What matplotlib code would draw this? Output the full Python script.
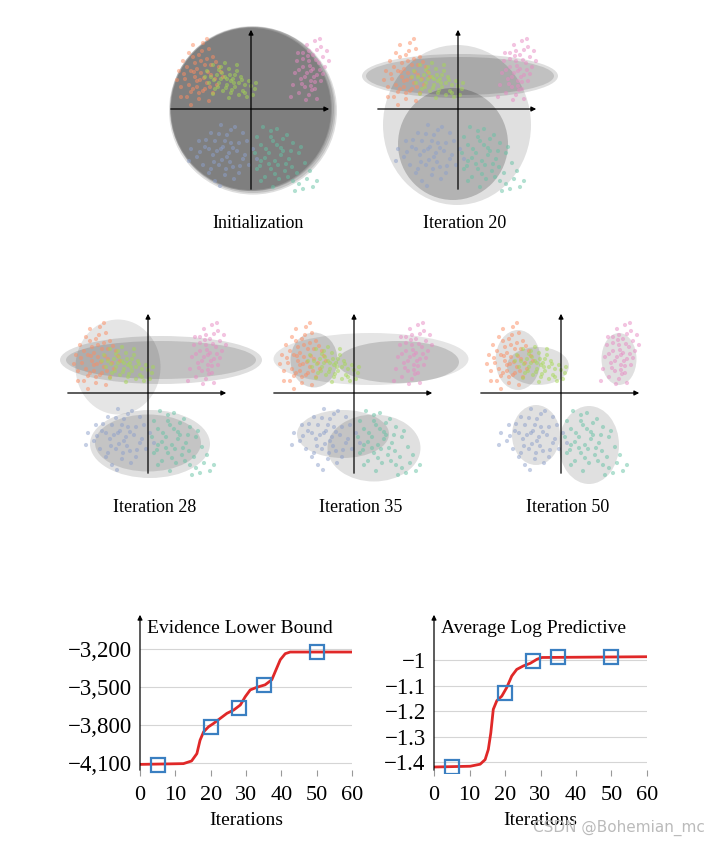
import matplotlib
matplotlib.use("Agg")
from matplotlib import pyplot as plt
from matplotlib.patches import Ellipse
from matplotlib.ticker import FuncFormatter

plt.rcParams['font.family'] = ['Liberation Serif', 'DejaVu Serif']

# five point clouds (same data in every panel), Set2 colours
cluster_colors = ['#fc8d62', '#a6d854', '#e78ac3', '#8da0cb', '#66c2a5']
orange_pts = [(-2.9, 3.2), (-2.4, 3.3), (-2.1, 3.0), (-3.1, 2.8), (-2.6, 2.7), (-1.9, 2.6), (-3.4, 2.4),
              (-2.8, 2.3), (-2.3, 2.2), (-1.6, 2.1), (-3.6, 1.9), (-3.0, 1.9), (-2.5, 1.8), (-2.0, 1.7),
              (-1.4, 1.6), (-3.3, 1.5), (-2.7, 1.4), (-2.2, 1.3), (-1.7, 1.2), (-3.5, 1.1), (-2.9, 1.0),
              (-2.4, 0.9), (-1.9, 0.8), (-3.2, 0.6), (-2.6, 0.5), (-2.1, 0.4), (-3.0, 0.2), (-2.7, 2.0),
              (-2.2, 2.5), (-2.8, 1.6), (-3.1, 1.2), (-2.35, 1.55), (-2.5, 2.4), (-2.0, 2.2), (-2.7, 1.1),
              (-2.3, 1.0), (-1.8, 1.5), (-3.2, 2.1), (-2.9, 2.6), (-2.45, 2.9), (-1.75, 2.35), (-3.35, 1.75),
              (-2.15, 1.85), (-2.6, 0.8), (-3.0, 0.85), (-1.5, 1.85), (-2.05, 1.1), (-2.85, 1.85),
              (-3.5, 0.6), (-2.2, 3.5), (-3.7, 1.45), (-2.55, 1.45)]
green_pts = [(-2.2, 1.9), (-1.9, 2.2), (-1.5, 2.1), (-1.1, 2.0), (-0.7, 1.9), (-2.0, 1.6), (-1.7, 1.7),
             (-1.3, 1.6), (-0.9, 1.5), (-0.5, 1.6), (-0.1, 1.4), (-2.1, 1.3), (-1.6, 1.3), (-1.2, 1.2),
             (-0.8, 1.1), (-0.3, 1.2), (0.2, 1.0), (-1.8, 1.0), (-1.4, 0.9), (-1.0, 0.8), (-0.6, 0.7),
             (-0.2, 0.6), (-1.5, 1.5), (-1.0, 1.4), (-0.4, 0.9), (0.1, 0.7), (-1.3, 2.3), (-0.8, 1.7),
             (-1.85, 1.45), (-1.45, 1.8), (-1.05, 1.7), (-0.6, 1.3), (-1.25, 1.05), (-0.85, 1.3),
             (-1.65, 1.1), (-1.2, 1.5), (-0.45, 1.45), (0.0, 1.15), (-0.95, 0.95), (-1.6, 1.95),
             (-2.3, 1.6), (-0.3, 0.8), (0.25, 1.3), (-1.1, 0.55), (-0.7, 2.2), (-1.9, 0.75)]
pink_pts = [(3.2, 3.4), (2.8, 3.2), (3.5, 3.1), (3.8, 2.9), (2.6, 2.8), (3.1, 2.7), (3.6, 2.6), (2.3, 2.4),
            (2.9, 2.4), (3.4, 2.3), (2.6, 2.1), (3.1, 2.0), (3.7, 2.1), (2.2, 1.8), (2.8, 1.8), (3.3, 1.7),
            (2.5, 1.5), (3.0, 1.4), (3.5, 1.4), (2.1, 1.2), (2.7, 1.1), (3.2, 1.0), (2.4, 0.8), (2.9, 0.7),
            (3.3, 0.5), (2.0, 0.6), (2.9, 2.9), (3.0, 1.9), (2.95, 2.15), (3.25, 2.45), (2.7, 1.6),
            (3.2, 1.35), (2.6, 2.5), (3.45, 1.95), (3.0, 1.15), (2.4, 1.95), (3.3, 2.95), (2.85, 2.65),
            (3.6, 1.75), (2.55, 1.25), (3.05, 0.95), (3.9, 2.4), (2.35, 2.8), (3.15, 1.6), (2.75, 0.45),
            (3.45, 3.5)]
blue_pts = [(-1.5, -0.8), (-0.8, -0.9), (-2.0, -1.2), (-1.2, -1.3), (-0.4, -1.2), (-2.6, -1.6), (-1.8, -1.6),
            (-1.0, -1.7), (-0.2, -1.6), (-3.0, -2.0), (-2.3, -1.9), (-1.5, -2.0), (-0.7, -2.1), (0.1, -2.0),
            (-2.7, -2.4), (-1.9, -2.3), (-1.2, -2.4), (-0.4, -2.5), (-2.4, -2.8), (-1.6, -2.8), (-0.9, -2.9),
            (-0.1, -2.8), (-2.1, -3.2), (-1.3, -3.3), (-0.6, -3.2), (-1.8, -3.6), (-1.4, -1.9), (-1.1, -2.2),
            (-1.3, -1.6), (-1.7, -2.1), (-0.9, -1.95), (-1.45, -2.55), (-2.1, -2.0), (-0.6, -1.7),
            (-1.05, -2.65), (-1.85, -2.65), (-0.55, -2.85), (-2.25, -1.55), (-1.6, -1.25), (-1.0, -1.05),
            (-0.3, -2.3), (-2.55, -2.15), (-1.25, -3.0), (-2.0, -3.0), (-0.85, -3.5), (-3.1, -2.6),
            (0.3, -2.5), (-1.55, -3.85)]
teal_pts = [(0.6, -0.9), (1.3, -1.0), (0.3, -1.4), (1.0, -1.4), (1.8, -1.3), (0.5, -1.8), (1.3, -1.8),
            (2.1, -1.7), (0.2, -2.2), (0.9, -2.2), (1.6, -2.1), (2.4, -2.2), (0.5, -2.6), (1.2, -2.6),
            (1.9, -2.5), (2.7, -2.7), (0.3, -3.0), (1.0, -3.0), (1.7, -3.1), (2.3, -3.2), (0.7, -3.4),
            (1.4, -3.5), (2.1, -3.6), (2.8, -3.5), (3.1, -3.9), (2.6, -4.0), (1.1, -3.9), (1.5, -2.3),
            (1.1, -1.6), (1.5, -1.95), (0.75, -2.0), (1.35, -2.8), (2.0, -2.1), (0.7, -2.45), (1.75, -2.75),
            (1.2, -3.25), (2.05, -2.9), (0.45, -2.85), (1.6, -1.5), (2.5, -1.9), (0.9, -2.75), (1.85, -3.4),
            (2.4, -3.75), (2.95, -3.1), (0.5, -3.6), (3.3, -3.6), (2.2, -4.1), (1.0, -1.1)]
clusters = [orange_pts, green_pts, pink_pts, blue_pts, teal_pts]

# fitted components per panel: (cx, cy, width, height, alpha)
comps_init = [(0.1, -0.08, 8.4, 8.4, 0.13), (0.1, -0.05, 8.25, 8.3, 0.13), (0.0, 0.0, 8.1, 8.2, 0.13),
              (0.05, 0.02, 8.2, 8.25, 0.13), (0.0, 0.0, 8.0, 8.1, 0.13)]
comps_20 = [(-0.05, -0.8, 7.4, 8.0, 0.12), (-0.25, -1.75, 5.5, 5.6, 0.2),
            (0.1, 1.65, 9.8, 2.2, 0.13), (0.1, 1.65, 9.4, 1.9, 0.13)]
comps_28 = [(-1.5, 1.3, 4.25, 4.75, 0.1), (0.65, 1.65, 10.1, 2.4, 0.13), (0.65, 1.65, 9.5, 1.9, 0.13),
            (0.1, -2.55, 6.0, 3.4, 0.12), (0.0, -2.5, 5.3, 2.85, 0.12)]
comps_35 = [(0.85, 1.7, 9.75, 2.6, 0.1), (2.2, 1.55, 6.1, 2.1, 0.15), (-2.0, 1.65, 2.35, 2.75, 0.15),
            (-0.55, -2.05, 4.6, 2.4, 0.12), (1.0, -2.75, 4.65, 3.35, 0.12)]
comps_50 = [(-2.15, 1.65, 2.25, 3.0, 0.12), (-1.15, 1.35, 3.1, 1.9, 0.12), (2.9, 1.7, 1.75, 2.6, 0.12),
            (-1.25, -2.1, 2.4, 3.0, 0.12), (1.4, -2.6, 3.0, 3.9, 0.12)]

panel_titles = ['Initialization', 'Iteration 20', 'Iteration 28', 'Iteration 35', 'Iteration 50']
panel_comps = [comps_init, comps_20, comps_28, comps_35, comps_50]

# ELBO and predictive curves
elbo_iter = [0, 12.3, 14.6, 16.1, 17, 18, 19.4, 20.8, 22.7, 24.6, 26.5, 28.4, 29.8, 31.2, 33.1, 35.4,
             37.3, 38.3, 39.7, 41.1, 42.5, 60]
elbo_val = [-4111, -4105, -4084, -4026, -3920, -3854, -3814, -3788, -3748, -3708, -3682, -3642, -3576,
            -3523, -3502, -3483, -3443, -3377, -3285, -3237, -3224, -3224]
pred_iter = [0, 10.2, 13, 14.4, 15.3, 16, 16.7, 17.7, 19.1, 20.5, 21.9, 23.3, 25.2, 27.1, 29, 30.4, 60]
pred_val = [-1.420, -1.417, -1.409, -1.391, -1.351, -1.286, -1.193, -1.159, -1.141, -1.107, -1.062,
            -1.036, -1.022, -1.012, -0.996, -0.989, -0.986]
snap_iter = [5, 20, 28, 35, 50]
elbo_snap = [-4112, -3812, -3662, -3488, -3225]
pred_snap = [-1.420, -1.128, -1.003, -0.989, -0.986]

fig = plt.figure(figsize=(7.2, 8.46), dpi=100)
W, H = 720, 846

# panel origins in pixels
origins = [(251, 109), (458, 109), (148, 393), (354, 393), (561, 393)]
label_y = [224, 224, 508, 508, 508]
for (ox, oy), title, comps, ly in zip(origins, panel_titles, panel_comps, label_y):
    ax = fig.add_axes([(ox - 120) / W, 1 - (oy + 100) / H, 240 / W, 200 / H])
    ax.set_xlim(-6, 6)
    ax.set_ylim(-5, 5)
    ax.axis('off')
    for cx, cy, w, h, a in comps:
        ax.add_patch(Ellipse((cx, cy), w, h, facecolor='k', edgecolor='none', alpha=a, zorder=1))
    for pts, c in zip(clusters, cluster_colors):
        xs = [p[0] for p in pts]
        ys = [p[1] for p in pts]
        ax.scatter(xs, ys, s=9, color=c, alpha=0.5, edgecolors='none', zorder=2)
    ax.annotate('', xy=(4.05, 0), xytext=(-4.15, 0),
                arrowprops=dict(arrowstyle='-|>', color='k', lw=0.9, mutation_scale=7), zorder=3)
    ax.annotate('', xy=(0, 4.1), xytext=(0, -4.15),
                arrowprops=dict(arrowstyle='-|>', color='k', lw=0.9, mutation_scale=7), zorder=3)
    fig.text((ox + 7) / W, 1 - ly / H, title, ha='center', va='center', fontsize=13)


def style_curve_axes(ax, title):
    for s in ax.spines.values():
        s.set_visible(False)
    ax.set_xlim(0, 60)
    ax.set_xticks([0, 10, 20, 30, 40, 50, 60])
    ax.tick_params(axis='x', direction='inout', length=5, color='#999999', labelsize=16, pad=7)
    ax.tick_params(axis='y', length=0, labelsize=16.5, pad=6)
    ax.grid(axis='y', color='#d5d5d5', lw=0.8)
    ax.set_axisbelow(True)
    ax.annotate('', xy=(0, 1.0), xytext=(0, 0), xycoords='axes fraction',
                arrowprops=dict(arrowstyle='-|>', color='k', lw=0.9, mutation_scale=7))
    ax.text(0.035, 0.90, title, transform=ax.transAxes, fontsize=14, va='center', ha='left')
    ax.set_xlabel('Iterations', fontsize=14, labelpad=5)


ax1 = fig.add_axes([140 / W, (H - 773) / H, 212 / W, 161 / H])
ax1.plot(elbo_iter, elbo_val, color='#e02828', lw=2)
ax1.plot(snap_iter, elbo_snap, ls='none', marker='s', ms=9.5, mfc='none', mec='#3a7fc1', mew=1.6)
ax1.set_ylim(-4179, -2908)
ax1.set_yticks([-4100, -3800, -3500, -3200])
ax1.yaxis.set_major_formatter(FuncFormatter(lambda v, p: '\u2212{:,}'.format(int(-v))))
style_curve_axes(ax1, 'Evidence Lower Bound')

ax2 = fig.add_axes([434 / W, (H - 773) / H, 213 / W, 161 / H])
ax2.plot(pred_iter, pred_val, color='#e02828', lw=2)
ax2.plot(snap_iter, pred_snap, ls='none', marker='s', ms=9.5, mfc='none', mec='#3a7fc1', mew=1.6)
ax2.set_ylim(-1.4436, -0.81)
ax2.set_yticks([-1.4, -1.3, -1.2, -1.1, -1.0])
ax2.yaxis.set_major_formatter(FuncFormatter(lambda v, p: '\u2212' + ('{:g}'.format(round(-v, 1)))))
style_curve_axes(ax2, 'Average Log Predictive')

fig.text(705 / W, 1 - 828 / H, 'CSDN @Bohemian_mc', ha='right', va='center', fontsize=11,
         color='#bbbbbb', family=['DejaVu Sans'])

fig.savefig('out.png', dpi=100)
